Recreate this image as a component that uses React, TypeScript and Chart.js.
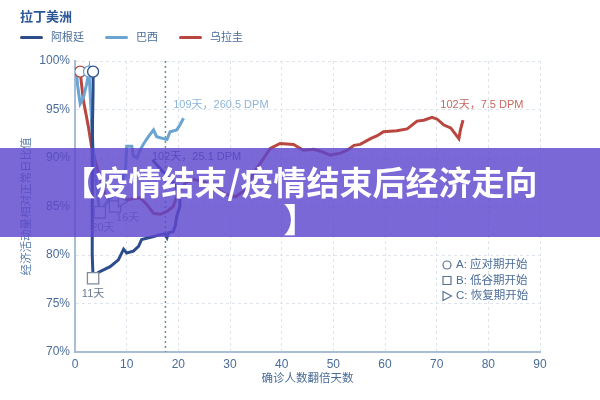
import React, { useEffect, useRef } from 'react';
import { Chart, registerables } from 'chart.js';

Chart.register(...registerables);

const countries = ['阿根廷', '巴西', '乌拉圭'];
const countryColors = ['#2c4c8c', '#6aa4d2', '#b9463f'];

// 确诊人数翻倍天数 (x) / 经济活动量相对正常日比值 (y, %)
const argentinaDays = [3.5, 3.5, 3.4, 3.3, 3.3, 3.4, 3.5, 4.5, 6.8, 8.4, 9.4, 10, 11.3, 12.3, 12.9, 15.2, 16.5, 17.4, 17.8, 18.1, 19, 19.4, 19.7, 20.3, 20.3, 19.8, 19, 18, 17, 16, 15];
const argentinaActivity = [98.9, 97, 94, 90, 85, 80, 77.6, 78.2, 78.8, 79.5, 80.6, 80.2, 80.4, 80.9, 81.6, 81.9, 82.1, 82.2, 81.8, 82.3, 82.4, 83, 84, 85, 85.7, 86.7, 87.5, 88.1, 88.6, 89.2, 89.8];

const brazilDays = [0.2, 0.5, 1.0, 1.6, 2.2, 2.7, 3.0, 3.5, 4.2, 4.8, 6, 7.5, 9, 9.8, 10, 11, 11.3, 12, 12.6, 13.2, 14.2, 15.2, 15.8, 17.1, 17.8, 18.4, 19.7, 20.3, 21];
const brazilActivity = [99.3, 97.5, 95.6, 96.2, 97.5, 98.9, 96, 91, 87, 84.4, 85.3, 86.3, 87.3, 89, 91.2, 91.2, 90.2, 90.0, 90.8, 91.4, 92.2, 92.9, 92.2, 92.0, 91.9, 92.7, 92.9, 93.4, 94.1];

const uruguayDays = [1.0, 1.6, 2.6, 3.2, 4, 5, 6, 7, 7.75, 9, 10, 12.6, 13.9, 15.2, 16.5, 17.8, 19, 20, 21.5, 23, 25, 27, 29, 31, 33, 34.5, 35.9, 37.8, 39.7, 42.3, 44.2, 46.2, 47.5, 49.4, 51.4, 52.7, 54, 55.2, 57.2, 58.5, 59.7, 62.3, 64.3, 66.2, 67.5, 69.1, 70.1, 71.4, 72.7, 73.3, 74.3, 74.6, 75.1];
const uruguayActivity = [98.9, 96, 93.2, 91.2, 89.5, 87.5, 86, 85.3, 85.0, 85.5, 85.7, 85.9, 85.2, 84.3, 84.2, 84.5, 85.0, 86.5, 87.5, 87.8, 87.5, 87, 86.3, 86.0, 86.7, 88.4, 89.5, 91.0, 91.5, 91.4, 90.8, 90.9, 90.7, 90.3, 90.5, 90.8, 91.3, 91.4, 92.0, 92.3, 92.7, 92.8, 93.0, 93.8, 93.9, 94.2, 94.0, 93.4, 93.1, 92.7, 92.0, 92.9, 93.9];

const seriesDays = [argentinaDays, brazilDays, uruguayDays];
const seriesActivity = [argentinaActivity, brazilActivity, uruguayActivity];

// index of the point where phase A / B / C starts
const phaseIdx: (number | null)[][] = [
  [0, 6, null],
  [5, 9, null],
  [0, 8, 9],
];
const phaseLabels = ['A: 应对期开始', 'B: 低谷期开始', 'C: 恢复期开始'];
const phaseStyles = ['circle', 'rect', 'triangle'];

const noteTexts = ['11天', '20天', '16天', '102天，25.1 DPM', '109天，260.5 DPM', '102天，7.5 DPM'];
const noteDays = [3.5, 5.4, 10.2, 14.9, 19, 70.7];
const noteActivity = [76.0, 82.8, 83.85, 90.1, 95.5, 95.5];
const noteColors = ['#6b7a90', '#8590a2', '#8590a2', '#3d5c96', '#8db6da', '#c76a62'];

const xTicks = { min: 0, max: 90, step: 10 };
const yTicks = { min: 70, max: 100, step: 5 };
const markerLineDay = 17.5;

const FONT = '"Liberation Sans", "Noto Sans CJK SC", sans-serif';
const TICK_COLOR = '#4a6c98';

const overlayPlugin = {
  id: 'overlay',
  beforeDatasetsDraw(chart: any) {
    const { ctx, chartArea, scales } = chart;
    const px = scales.x.getPixelForValue(markerLineDay);
    ctx.save();
    ctx.strokeStyle = '#6a9396';
    ctx.lineWidth = 1.5;
    ctx.setLineDash([2, 3]);
    ctx.beginPath();
    ctx.moveTo(px, chartArea.top);
    ctx.lineTo(px, chartArea.bottom);
    ctx.stroke();
    ctx.restore();
  },
  afterDatasetsDraw(chart: any) {
    const { ctx, chartArea, scales } = chart;
    ctx.save();
    ctx.font = `11px ${FONT}`;
    ctx.textBaseline = 'middle';
    noteTexts.forEach((t, i) => {
      ctx.fillStyle = noteColors[i];
      ctx.textAlign = i < 3 ? 'center' : 'left';
      ctx.fillText(t, scales.x.getPixelForValue(noteDays[i]), scales.y.getPixelForValue(noteActivity[i]));
    });

    // phase legend
    const sx = chartArea.right - 93;
    ctx.font = `11.5px ${FONT}`;
    ctx.textAlign = 'left';
    ctx.strokeStyle = '#5a7196';
    ctx.lineWidth = 1.2;
    phaseLabels.forEach((t, i) => {
      const cy = chartArea.top + 204 + i * 15.5;
      ctx.beginPath();
      if (i === 0) ctx.arc(sx, cy, 4, 0, Math.PI * 2);
      else if (i === 1) ctx.rect(sx - 4, cy - 4, 8, 8);
      else {
        ctx.moveTo(sx - 4, cy - 4.5);
        ctx.lineTo(sx + 4.5, cy);
        ctx.lineTo(sx - 4, cy + 4.5);
        ctx.closePath();
      }
      ctx.stroke();
      ctx.fillStyle = TICK_COLOR;
      ctx.fillText(t, sx + 9, cy);
    });
    ctx.restore();
  },
};

const Legend: React.FC = () => (
  <div style={{ position: 'absolute', left: 20, top: 8, fontFamily: FONT }}>
    <div style={{ fontSize: 13, fontWeight: 'bold', color: '#2b5797', lineHeight: '18px' }}>拉丁美洲</div>
    <div style={{ display: 'flex', alignItems: 'center', marginTop: 2 }}>
      {countries.map((c, i) => (
        <div key={c} style={{ display: 'flex', alignItems: 'center', marginRight: 21 }}>
          <span style={{ width: 23, height: 3, borderRadius: 2, background: countryColors[i], marginRight: 8 }} />
          <span style={{ fontSize: 11, color: TICK_COLOR, lineHeight: '18px' }}>{c}</span>
        </div>
      ))}
    </div>
  </div>
);

const App: React.FC = () => {
  const canvasRef = useRef<HTMLCanvasElement | null>(null);
  const chartRef = useRef<Chart | null>(null);

  useEffect(() => {
    const ctx = canvasRef.current?.getContext('2d');
    if (!ctx) return;

    const lineSets = countries.map((c, i) => ({
      label: c,
      data: seriesDays[i].map((d, j) => ({ x: d, y: seriesActivity[i][j] })),
      showLine: true,
      borderColor: countryColors[i],
      borderWidth: 3,
      pointRadius: 0,
      tension: 0,
      order: 1,
    }));

    const markerSets = countries.map((c, i) => {
      const pts: { x: number; y: number }[] = [];
      const styles: string[] = [];
      phaseIdx[i].forEach((idx, k) => {
        if (idx === null) return;
        pts.push({ x: seriesDays[i][idx], y: seriesActivity[i][idx] });
        styles.push(phaseStyles[k]);
      });
      return {
        label: c + ' phase',
        data: pts,
        showLine: false,
        pointStyle: styles,
        pointRadius: styles.map((s) => (s === 'rect' ? 8 : s === 'circle' ? 5.5 : 6)),
        pointRotation: styles.map((s) => (s === 'triangle' ? 90 : 0)),
        pointBackgroundColor: '#ffffff',
        pointBorderColor: styles.map((s) => (s === 'circle' ? countryColors[i] : '#7f8a9c')),
        pointBorderWidth: 1.3,
        order: 0,
      };
    });

    chartRef.current = new Chart(ctx, {
      type: 'scatter',
      data: { datasets: [...markerSets, ...lineSets] as any },
      options: {
        animation: false,
        responsive: true,
        maintainAspectRatio: false,
        layout: { padding: { top: 61, right: 60, bottom: 0, left: 0 } },
        plugins: { legend: { display: false }, tooltip: { enabled: false } },
        scales: {
          x: {
            type: 'linear',
            min: xTicks.min,
            max: xTicks.max,
            afterFit: (s: any) => { s.height = 48; },
            ticks: { stepSize: xTicks.step, color: TICK_COLOR, font: { family: FONT, size: 12 }, padding: 5 },
            grid: { color: '#dde4ec', drawTicks: false },
            border: { color: '#a9bed4', width: 2, dash: [3, 3] },
            title: { display: true, text: '确诊人数翻倍天数', color: TICK_COLOR, font: { family: FONT, size: 11.5 }, padding: { top: 0, bottom: 14 } },
          },
          y: {
            type: 'linear',
            min: yTicks.min,
            max: yTicks.max,
            afterFit: (s: any) => { s.width = 75; },
            ticks: { stepSize: yTicks.step, color: TICK_COLOR, font: { family: FONT, size: 12 }, padding: 5, callback: (v: any) => v + '%' },
            grid: { color: '#dde4ec', drawTicks: false },
            border: { color: '#a9bed4', width: 2, dash: [3, 3] },
            title: { display: true, text: '经济活动量相对正常日比值', color: '#5a7fa8', font: { family: FONT, size: 11.5 }, padding: { top: 20, bottom: 0 } },
          },
        },
      },
      plugins: [overlayPlugin],
    });

    return () => {
      chartRef.current?.destroy();
      chartRef.current = null;
    };
  }, []);

  return (
    <div style={{ position: 'fixed', left: 0, top: 0, width: 600, height: 400, background: '#fff' }}>
      <canvas ref={canvasRef} />
      <Legend />
      <div
        style={{
          position: 'absolute', left: 0, top: 148, width: 600, height: 89, boxSizing: 'border-box',
          paddingTop: 15, background: 'rgba(93, 71, 205, 0.82)', color: '#fff', textAlign: 'center',
          fontFamily: '"Noto Sans CJK SC", sans-serif', fontWeight: 'bold', fontSize: 33, lineHeight: '37px',
        }}
      >
        【疫情结束/疫情结束后经济走向<br />】
      </div>
    </div>
  );
};

export default App;
